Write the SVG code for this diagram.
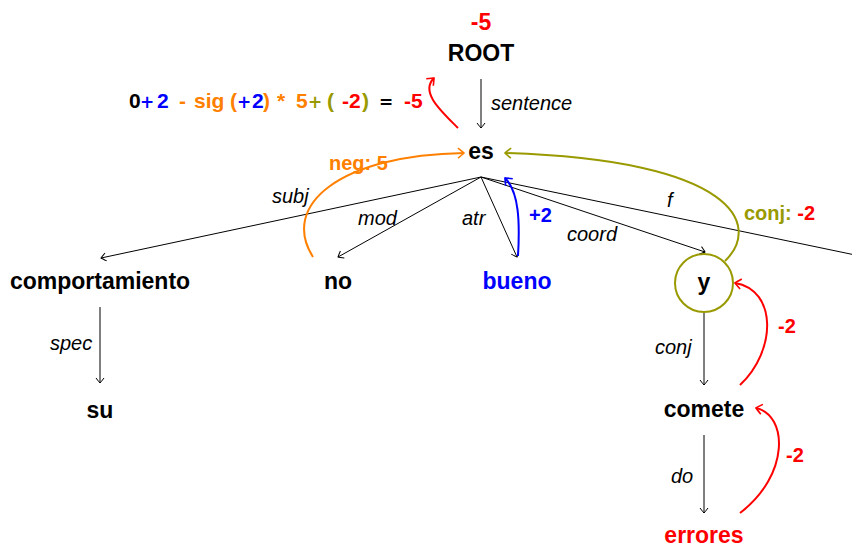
<svg xmlns="http://www.w3.org/2000/svg" width="852" height="548" viewBox="0 0 852 548">
  <style>
    .node { font-family: "Liberation Sans", Arial, sans-serif; font-weight: bold; font-size: 23px; text-anchor: middle; fill: #000; }
    .lbl { font-family: "Liberation Sans", Arial, sans-serif; font-style: italic; font-size: 20px; fill: #000; }
    .score { font-family: "Liberation Sans", Arial, sans-serif; font-weight: bold; font-size: 20px; }
    .formula { font-family: "Liberation Sans", Arial, sans-serif; font-weight: bold; font-size: 21px; }
    .op { font-family: "DejaVu Sans", sans-serif; font-weight: bold; font-size: 17px; }
    .edge { fill: none; stroke: #000; stroke-width: 1; }
    .curve { fill: none; stroke-width: 2; }
  </style>
  <defs>
    <marker id="ah" viewBox="-6 -5 8 10" refX="0" refY="0" markerWidth="8" markerHeight="10" markerUnits="userSpaceOnUse" orient="auto">
      <path d="M-5,-4 Q-1,-1 0,0 Q-1,1 -5,4" fill="none" stroke="#000" stroke-width="1"/>
    </marker>
    <marker id="ah-red" viewBox="-8 -6 10 12" refX="0" refY="0" markerWidth="10" markerHeight="12" markerUnits="userSpaceOnUse" orient="auto">
      <path d="M-6,-5 Q-1,-1 0,0 Q-1,1 -6,5" fill="none" stroke="#ff0000" stroke-width="1.6"/>
    </marker>
    <marker id="ah-blue" viewBox="-8 -6 10 12" refX="0" refY="0" markerWidth="10" markerHeight="12" markerUnits="userSpaceOnUse" orient="auto">
      <path d="M-6,-5 Q-1,-1 0,0 Q-1,1 -6,5" fill="none" stroke="#0000ff" stroke-width="1.6"/>
    </marker>
    <marker id="ah-orange" viewBox="-8 -6 10 12" refX="0" refY="0" markerWidth="10" markerHeight="12" markerUnits="userSpaceOnUse" orient="auto">
      <path d="M-6,-5 Q-1,-1 0,0 Q-1,1 -6,5" fill="none" stroke="#ff8000" stroke-width="1.6"/>
    </marker>
    <marker id="ah-olive" viewBox="-8 -6 10 12" refX="0" refY="0" markerWidth="10" markerHeight="12" markerUnits="userSpaceOnUse" orient="auto">
      <path d="M-6,-5 Q-1,-1 0,0 Q-1,1 -6,5" fill="none" stroke="#999900" stroke-width="1.6"/>
    </marker>
  </defs>

  <!-- dependency edges -->
  <g id="connectors">
    <line class="edge" x1="481" y1="79" x2="481" y2="128" marker-end="url(#ah)"/>
    <text class="lbl" x="491" y="110">sentence</text>

    <line class="edge" x1="481" y1="177" x2="101" y2="258" marker-end="url(#ah)"/>
    <text class="lbl" x="272" y="203">subj</text>
    <line class="edge" x1="481" y1="177" x2="338" y2="257" marker-end="url(#ah)"/>
    <text class="lbl" x="358" y="225">mod</text>
    <line class="edge" x1="481" y1="177" x2="517" y2="257" marker-end="url(#ah)"/>
    <text class="lbl" x="462" y="225">atr</text>
    <line class="edge" x1="481" y1="177" x2="860" y2="256"/>
    <text class="lbl" x="667" y="207">f</text>
    <line class="edge" x1="481" y1="177" x2="705" y2="252" marker-end="url(#ah)"/>
    <text class="lbl" x="567" y="241">coord</text>

    <line class="edge" x1="100" y1="307" x2="100" y2="383" marker-end="url(#ah)"/>
    <text class="lbl" x="50" y="350">spec</text>
    <line class="edge" x1="704" y1="313" x2="704" y2="385" marker-end="url(#ah)"/>
    <text class="lbl" x="655" y="354">conj</text>
    <line class="edge" x1="704" y1="435" x2="704" y2="513" marker-end="url(#ah)"/>
    <text class="lbl" x="671" y="483">do</text>

    <!-- score propagation curves -->
    <path class="curve" stroke="#ff0000" d="M458,128 C440,110 420,92 434,78" marker-end="url(#ah-red)"/>
    <path class="curve" stroke="#0000ff" d="M518,256 C520,222 519,192 505,178" marker-end="url(#ah-blue)"/>
    <path class="curve" stroke="#ff8000" d="M313,257 C280,205 340,155 464,153" marker-end="url(#ah-orange)"/>
    <path class="curve" stroke="#999900" d="M725,261 C762,225 735,160 505,153" marker-end="url(#ah-olive)"/>
    <path class="curve" stroke="#ff0000" d="M740,385 C777,350 777,290 735,283" marker-end="url(#ah-red)"/>
    <path class="curve" stroke="#ff0000" d="M740,513 C790,475 788,415 756,408" marker-end="url(#ah-red)"/>

    <text class="score" x="529" y="222" fill="#0000ff">+2</text>
    <text class="score" x="329" y="170" fill="#ff8000">neg: 5</text>
    <text class="score" x="744" y="220"><tspan fill="#999900">conj: </tspan><tspan fill="#ff0000">-2</tspan></text>
    <text class="score" x="778" y="333" fill="#ff0000">-2</text>
    <text class="score" x="786" y="462" fill="#ff0000">-2</text>
  </g>

  <g id="root">
    <text class="node" x="481" y="30" style="fill:#ff0000">-5</text>
    <text class="node" x="481" y="61">ROOT</text>
  </g>

  <!-- score formula, one glyph run per term -->
  <g id="formula">
    <text class="formula" y="108"><tspan x="129" fill="#000">0</tspan><tspan x="140" class="op" fill="#0000ff">+</tspan><tspan x="157" fill="#0000ff">2</tspan><tspan x="179" fill="#ff8000">-</tspan><tspan x="194" fill="#ff8000">sig</tspan><tspan x="230" fill="#ff8000">(</tspan><tspan x="237" class="op" fill="#0000ff">+</tspan><tspan x="252" fill="#0000ff">2</tspan><tspan x="263" fill="#ff8000">)</tspan><tspan x="277" fill="#ff8000">*</tspan><tspan x="296" fill="#ff8000">5</tspan><tspan x="308" class="op" fill="#999900">+</tspan><tspan x="327" fill="#999900">(</tspan><tspan x="342" fill="#ff0000">-</tspan><tspan x="349" fill="#ff0000">2</tspan><tspan x="362" fill="#999900">)</tspan><tspan x="379" class="op" fill="#000">=</tspan><tspan x="404" fill="#ff0000">-5</tspan></text>
  </g>

  <g id="es"><text class="node" x="481" y="159">es</text></g>
  <g id="comportamiento"><text class="node" x="100" y="289">comportamiento</text></g>
  <g id="no"><text class="node" x="338" y="289">no</text></g>
  <g id="bueno"><text class="node" x="517" y="289" style="fill:#0000ff">bueno</text></g>
  <g id="y">
    <circle cx="704" cy="283" r="29" fill="none" stroke="#999900" stroke-width="2"/>
    <text class="node" x="704" y="290">y</text>
  </g>
  <g id="su"><text class="node" x="100" y="418">su</text></g>
  <g id="comete"><text class="node" x="704" y="417">comete</text></g>
  <g id="errores"><text class="node" x="704" y="543" style="fill:#ff0000">errores</text></g>
</svg>
